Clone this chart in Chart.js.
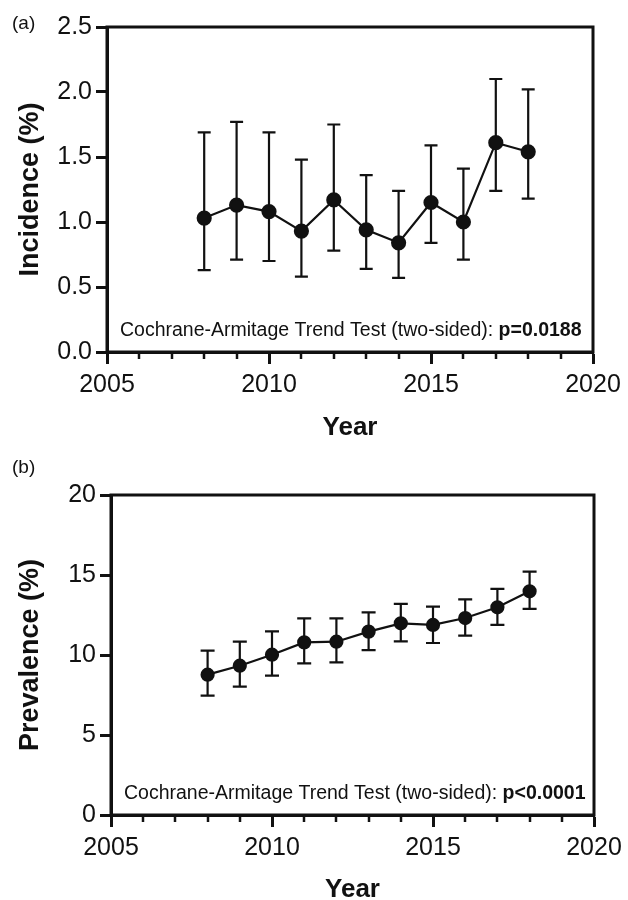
<!DOCTYPE html>
<html>
<head>
<meta charset="utf-8">
<title>Incidence and prevalence by year</title>
<script src="https://cdn.jsdelivr.net/npm/chart.js@4.4.1/dist/chart.umd.min.js"></script>
<style>
  html, body { margin: 0; padding: 0; background: #fff; }
  canvas { display: block; }
</style>
</head>
<body>
<canvas id="incidenceChart" width="628" height="450"></canvas>
<canvas id="prevalenceChart" width="628" height="450"></canvas>
<script>
const years = [2008, 2009, 2010, 2011, 2012, 2013, 2014, 2015, 2016, 2017, 2018];

// panel (a) – incidence (%) with 95% CI
const incidence = [1.03, 1.13, 1.08, 0.93, 1.17, 0.94, 0.84, 1.15, 1.00, 1.61, 1.54];
const incidenceLow = [0.63, 0.71, 0.70, 0.58, 0.78, 0.64, 0.57, 0.84, 0.71, 1.24, 1.18];
const incidenceHigh = [1.69, 1.77, 1.69, 1.48, 1.75, 1.36, 1.24, 1.59, 1.41, 2.10, 2.02];

// panel (b) – prevalence (%) with 95% CI
const prevalence = [8.77, 9.33, 10.02, 10.79, 10.83, 11.46, 11.98, 11.88, 12.31, 12.98, 13.98];
const prevalenceLow = [7.46, 8.02, 8.71, 9.48, 9.54, 10.31, 10.85, 10.75, 11.21, 11.88, 12.88];
const prevalenceHigh = [10.27, 10.83, 11.48, 12.29, 12.29, 12.67, 13.19, 13.02, 13.48, 14.13, 15.21];

const yearRange = [2005, 2020];
const incidenceRange = [0, 2.5];
const prevalenceRange = [0, 20];

const FONT = "'Liberation Sans', Arial, Helvetica, sans-serif";
const INK = "#111";

Chart.defaults.font.family = FONT;
Chart.defaults.color = INK;
Chart.defaults.animation = false;

// whiskers + caps, under the points
const errorBars = {
  id: "errorBars",
  beforeDatasetsDraw(chart, args, opts) {
    const { ctx, scales: { x, y } } = chart;
    ctx.save();
    ctx.strokeStyle = INK;
    ctx.lineWidth = 2.2;
    opts.low.forEach((lo, i) => {
      const px = x.getPixelForValue(years[i]);
      const top = y.getPixelForValue(opts.high[i]);
      const bottom = y.getPixelForValue(lo);
      ctx.beginPath();
      ctx.moveTo(px, top);
      ctx.lineTo(px, bottom);
      ctx.moveTo(px - opts.cap, top);
      ctx.lineTo(px + opts.cap, top);
      ctx.moveTo(px - opts.cap, bottom);
      ctx.lineTo(px + opts.cap, bottom);
      ctx.stroke();
    });
    ctx.restore();
  },
};

// closed box, minor year ticks, panel letter and the trend test note
const frame = {
  id: "frame",
  afterDraw(chart, args, opts) {
    const { ctx, chartArea: a, scales: { x } } = chart;
    ctx.save();
    ctx.strokeStyle = INK;
    ctx.lineWidth = 3;
    ctx.strokeRect(a.left, a.top, a.right - a.left, a.bottom - a.top);

    ctx.lineWidth = 2.5;
    for (let v = yearRange[0] + 1; v < yearRange[1]; v++) {
      if (v % 5 === 0) continue;
      const px = Math.round(x.getPixelForValue(v));
      ctx.beginPath();
      ctx.moveTo(px, a.bottom);
      ctx.lineTo(px, a.bottom + 7);
      ctx.stroke();
    }

    ctx.fillStyle = INK;
    ctx.textBaseline = "middle";
    ctx.font = `19px ${FONT}`;
    ctx.fillText(opts.letter, 12, opts.letterY);

    const tx = a.left + 13;
    const ty = a.bottom - 21;
    ctx.font = `19.5px ${FONT}`;
    ctx.fillText(opts.note, tx, ty);
    const w = ctx.measureText(opts.note).width;
    ctx.font = `bold 19.5px ${FONT}`;
    ctx.fillText(opts.pValue, tx + w, ty);
    ctx.restore();
  },
};

function makePanel(id, values, low, high, range, step, decimals, yTitle, extra) {
  const axisLine = { color: INK, width: 3 };
  return new Chart(document.getElementById(id), {
    type: "line",
    data: {
      datasets: [
        {
          data: years.map((yr, i) => ({ x: yr, y: values[i] })),
          borderColor: INK,
          borderWidth: 2.2,
          backgroundColor: INK,
          pointBackgroundColor: INK,
          pointBorderColor: INK,
          pointRadius: extra.radius,
          pointHoverRadius: extra.radius,
          tension: 0,
          clip: false,
        },
      ],
    },
    options: {
      responsive: false,
      layout: { padding: { left: 0, top: extra.top, right: extra.right, bottom: 0 } },
      plugins: {
        legend: { display: false },
        tooltip: { enabled: false },
        errorBars: { low, high, cap: extra.cap },
        frame: {
          letter: extra.letter,
          letterY: extra.letterY,
          note: "Cochrane-Armitage Trend Test (two-sided): ",
          pValue: extra.pValue,
        },
      },
      scales: {
        x: {
          type: "linear",
          min: yearRange[0],
          max: yearRange[1],
          border: axisLine,
          grid: { drawOnChartArea: false, tickLength: 12, tickWidth: 3, tickColor: INK, color: INK },
          ticks: {
            stepSize: 5,
            padding: 6,
            maxRotation: 0,
            color: INK,
            font: { size: 25 },
            callback: (v) => String(v),
          },
          title: {
            display: true,
            text: "Year",
            color: INK,
            font: { size: 26, weight: "bold", lineHeight: 1 },
            padding: { top: 0, bottom: extra.titlePad },
          },
          afterFit(scale) {
            scale.height = extra.xHeight;
          },
        },
        y: {
          min: range[0],
          max: range[1],
          border: axisLine,
          grid: { drawOnChartArea: false, tickLength: 11, tickWidth: 3, tickColor: INK, color: INK },
          ticks: {
            stepSize: step,
            padding: 4,
            color: INK,
            font: { size: 25 },
            callback: (v) => v.toFixed(decimals),
          },
          title: {
            display: true,
            text: yTitle,
            color: INK,
            font: { size: 27, weight: "bold", lineHeight: 1 },
            padding: { top: 17, bottom: 0 },
          },
          afterFit(scale) {
            scale.width = extra.yWidth;
          },
        },
      },
    },
    plugins: [errorBars, frame],
  });
}

makePanel("incidenceChart", incidence, incidenceLow, incidenceHigh, incidenceRange, 0.5, 1, "Incidence (%)", {
  letter: "(a)", letterY: 24, pValue: "p=0.0188",
  top: 27, right: 35, yWidth: 107, xHeight: 98, titlePad: 9.5,
  radius: 6.5, cap: 6.5,
});

makePanel("prevalenceChart", prevalence, prevalenceLow, prevalenceHigh, prevalenceRange, 5, 0, "Prevalence (%)", {
  letter: "(b)", letterY: 18, pValue: "p<0.0001",
  top: 45, right: 34, yWidth: 111, xHeight: 85, titlePad: -3,
  radius: 6, cap: 7,
});
</script>
</body>
</html>
